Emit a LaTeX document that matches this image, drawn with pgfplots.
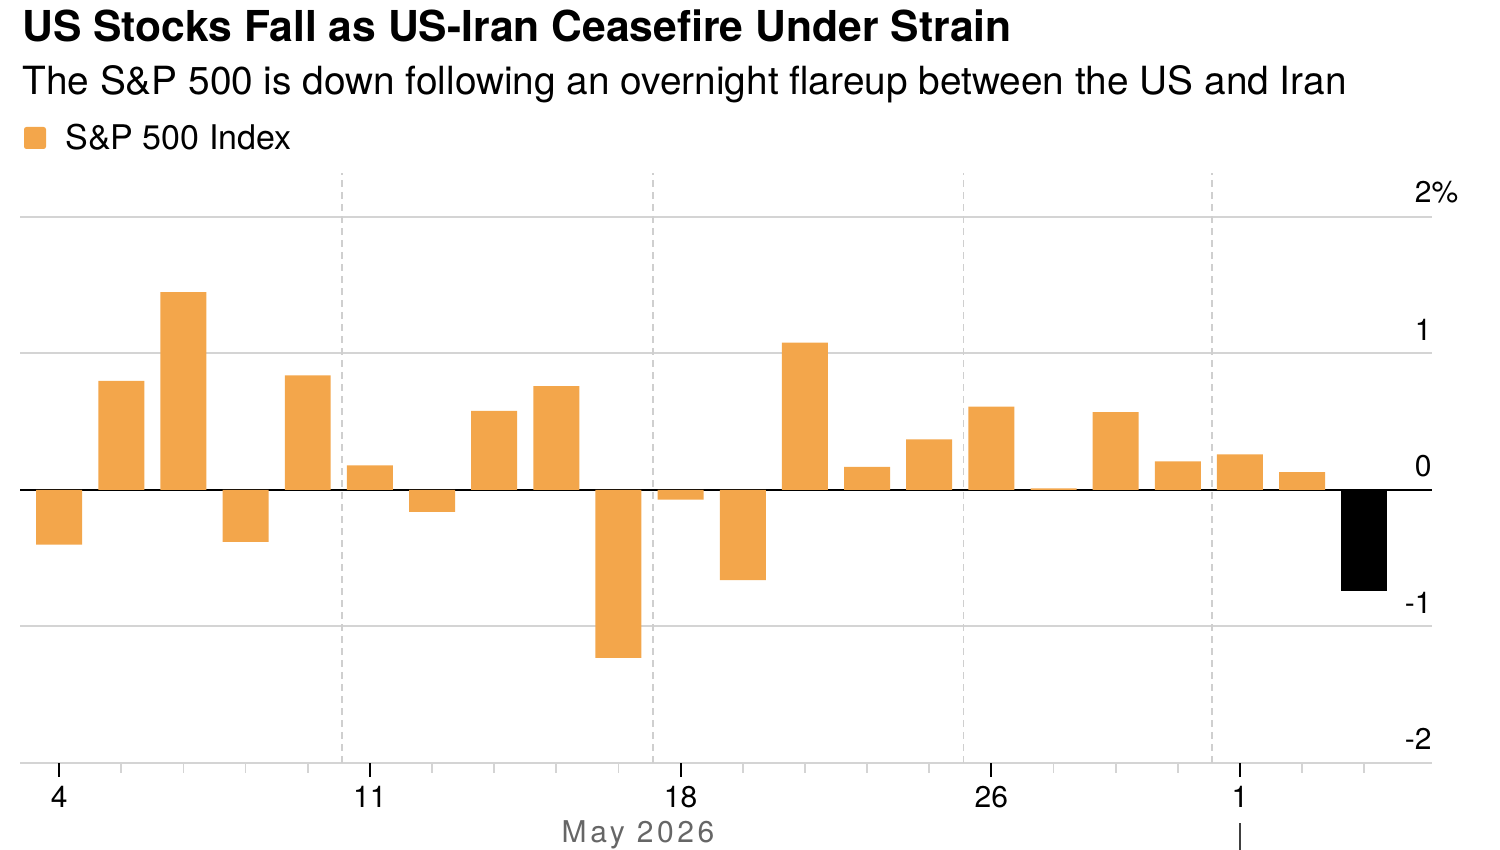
\documentclass[border=0pt]{standalone}
\usepackage{fontspec}
\setmainfont{TeX Gyre Heros}
\usepackage{pgfplots}
\pgfplotsset{compat=1.18}
\definecolor{barorange}{HTML}{F3A64B}
\definecolor{gridgray}{HTML}{D4D4D4}
\definecolor{dashgray}{HTML}{CFCFCF}
\definecolor{labelgray}{HTML}{666666}
\begin{document}
\begin{tikzpicture}[x=1pt,y=1pt]
\useasboundingbox (0,0) rectangle (750,425);
\node[anchor=base west, inner sep=0, font=\fontsize{21.3}{21.3}\selectfont\bfseries] at (11,404) {US Stocks Fall as US-Iran Ceasefire Under Strain};
\node[anchor=base west, inner sep=0, font=\fontsize{19.4}{19.4}\selectfont] at (11,377.5) {The S\&P 500 is down following an overnight flareup between the US and Iran};
\fill[barorange, rounded corners=1.2pt] (12,350.5) rectangle (23,361.5);
\node[anchor=base west, inner sep=0, font=\fontsize{17}{17}\selectfont] at (32.5,350) {S\&P 500 Index};
\begin{axis}[
  at={(10pt,43.5pt)}, anchor=south west,
  width=706pt, height=295pt, scale only axis,
  xmin=-0.63, xmax=22.09, ymin=-2, ymax=2.322,
  axis x line*=bottom, axis y line*=right,
  axis line style={draw=none},
  tick align=outside,
  ytick={-2,-1,1,2},
  yticklabels={-2,-1,1,2\rlap{\%}},
  extra y ticks={0},
  extra y tick labels={0},
  extra y tick style={major grid style={black, line width=1pt}},
  ymajorgrids=true,
  major grid style={gridgray, line width=1pt},
  ytick style={draw=none},
  yticklabel style={anchor=south east, inner sep=0pt, xshift=-7pt, yshift=6.5pt, font=\fontsize{15}{15}\selectfont},
  xtick={0,5,10,15,19},
  xticklabels={4,11,18,26,1},
  minor xtick={1,2,3,4,6,7,8,9,11,12,13,14,16,17,18,20,21},
  major tick length=7pt,
  minor tick length=5pt,
  major x tick style={black, line width=0.9pt},
  minor x tick style={gridgray, line width=0.9pt},
  xticklabel style={anchor=north, inner sep=0pt, yshift=-4.5pt, font=\fontsize{15}{15}\selectfont},
  extra x ticks={4.55,9.55,14.55,18.55},
  extra x tick labels={},
  extra x tick style={xmajorgrids=true, major tick length=0pt,
     major grid style={dashgray, line width=0.9pt, dash pattern=on 3.5pt off 2.5pt}},
  clip=false,
]
\addplot[ybar, bar width=0.74, bar shift=0pt, fill=barorange, draw=none] coordinates {
(0,-0.40) (1,0.80) (2,1.45) (3,-0.38) (4,0.84) (5,0.18) (6,-0.16) (7,0.58)
(8,0.76) (9,-1.23) (10,-0.07) (11,-0.66) (12,1.08) (13,0.17) (14,0.37)
(15,0.61) (16,0.012) (17,0.57) (18,0.21) (19,0.26) (20,0.13)
};
\addplot[ybar, bar width=0.74, bar shift=0pt, fill=black, draw=none] coordinates {(21,-0.74)};
\end{axis}
\node[anchor=base, inner sep=0, text=labelgray, font=\fontsize{15}{15}\selectfont\addfontfeature{LetterSpace=12}] at (319,3.5) {May 2026};
\draw[black!75, line width=1pt] (620,0) -- (620,13.5);
\end{tikzpicture}
\end{document}
